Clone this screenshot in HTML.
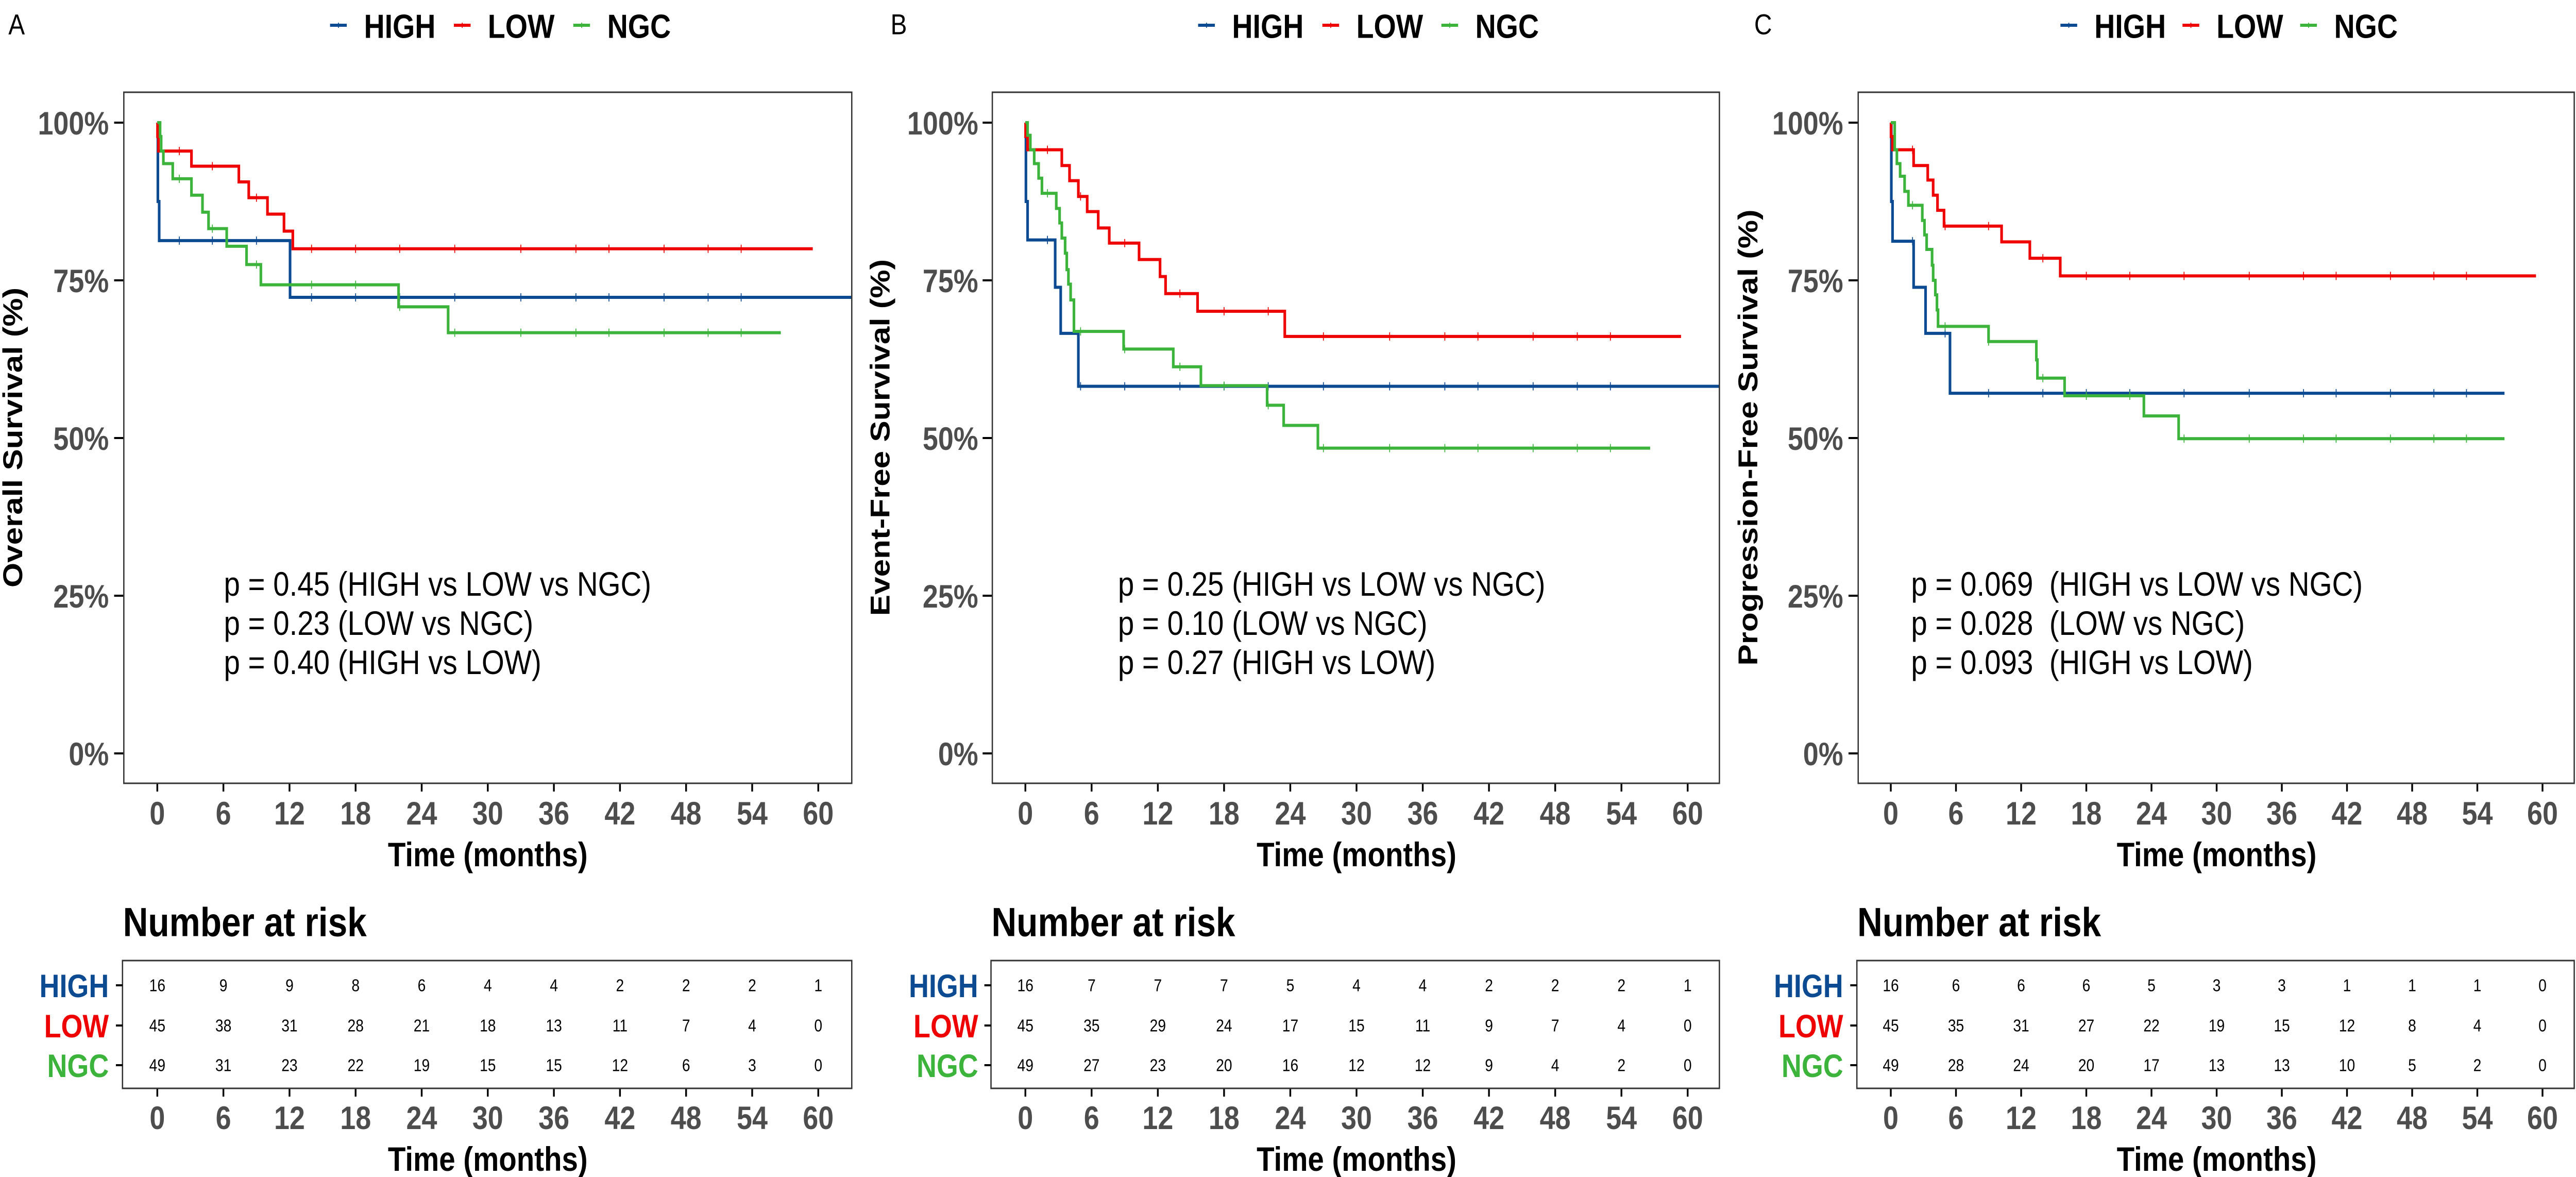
<!DOCTYPE html>
<html><head><meta charset="utf-8"><style>
html,body{margin:0;padding:0;background:#fff;width:100%;height:100%;overflow:hidden;}
svg{display:block;width:100vw;height:100vh;font-family:"Liberation Sans",Arial,sans-serif;}
</style></head><body>
<svg id="fig" viewBox="0 0 5846 2284" preserveAspectRatio="none" xmlns="http://www.w3.org/2000/svg"></svg>
<script>
// ---- data ----
const groups = ["HIGH","LOW","NGC"];
const colors = ["#0c4a92","#ee0000","#3cb43c"];
const xTicks = [0,6,12,18,24,30,36,42,48,54,60];
const yTicks = [0,0.25,0.5,0.75,1];
const yTickLabels = ["0%","25%","50%","75%","100%"];

// Panel A: Overall survival
const A_HIGH_t = [0.05,0.17,12.05];
const A_HIGH_s = [0.875,0.813,0.723];
const A_HIGH_end = 64;
const A_LOW_t = [0.02,0.1,3.1,7.4,8.3,10.0,11.5,12.3];
const A_LOW_s = [0.978,0.955,0.931,0.906,0.881,0.855,0.828,0.80];
const A_LOW_end = 59.5;
const A_NGC_t = [0.25,0.35,0.55,1.4,3.1,4.1,4.65,6.3,8.1,9.4,21.9,26.4];
const A_NGC_s = [0.978,0.955,0.935,0.911,0.885,0.858,0.832,0.804,0.775,0.743,0.708,0.667];
const A_NGC_end = 56.6;
const A_risk_HIGH = [16,9,9,8,6,4,4,2,2,2,1];
const A_risk_LOW = [45,38,31,28,21,18,13,11,7,4,0];
const A_risk_NGC = [49,31,23,22,19,15,15,12,6,3,0];

// Panel B: Event-free survival
const B_HIGH_t = [0.05,0.2,2.7,3.2,4.8];
const B_HIGH_s = [0.875,0.814,0.739,0.666,0.582];
const B_HIGH_end = 64;
const B_LOW_t = [0.02,0.2,3.3,4.0,4.8,5.6,6.6,7.6,10.3,12.2,12.7,15.6,23.5];
const B_LOW_s = [0.978,0.957,0.932,0.908,0.883,0.859,0.833,0.809,0.783,0.756,0.729,0.701,0.661];
const B_LOW_end = 59.4;
const B_NGC_t = [0.2,0.45,0.8,1.2,1.5,2.8,3.1,3.3,3.6,3.75,3.9,4.1,4.4,8.9,13.4,15.9,21.9,23.4,26.5];
const B_NGC_s = [0.98,0.957,0.935,0.912,0.888,0.864,0.841,0.817,0.793,0.767,0.744,0.719,0.669,0.641,0.613,0.583,0.552,0.520,0.484];
const B_NGC_end = 56.6;
const B_risk_HIGH = [16,7,7,7,5,4,4,2,2,2,1];
const B_risk_LOW = [45,35,29,24,17,15,11,9,7,4,0];
const B_risk_NGC = [49,27,23,20,16,12,12,9,4,2,0];

// Panel C: Progression-free survival
const C_HIGH_t = [0.05,0.16,2.1,3.2,5.45];
const C_HIGH_s = [0.875,0.812,0.739,0.666,0.571];
const C_HIGH_end = 56.5;
const C_LOW_t = [0.02,0.15,2.1,3.4,3.9,4.3,4.9,10.2,12.8,15.6];
const C_LOW_s = [0.978,0.957,0.932,0.909,0.885,0.861,0.836,0.811,0.785,0.757];
const C_LOW_end = 59.4;
const C_NGC_t = [0.36,0.56,0.86,1.27,1.62,2.9,3.1,3.3,3.8,3.9,4.1,4.25,4.35,9.0,13.4,13.5,16.0,23.3,26.5];
const C_NGC_s = [0.957,0.935,0.915,0.891,0.869,0.845,0.822,0.799,0.774,0.750,0.727,0.703,0.677,0.653,0.624,0.595,0.567,0.535,0.499];
const C_NGC_end = 56.5;
const C_risk_HIGH = [16,6,6,6,5,3,3,1,1,1,0];
const C_risk_LOW = [45,35,31,27,22,19,15,12,8,4,0];
const C_risk_NGC = [49,28,24,20,17,13,13,10,5,2,0];

const censorTimes = [2,5,9,14,18,22,27,33,38,41,46,50,53];

const pTextA = ["p = 0.45 (HIGH vs LOW vs NGC)","p = 0.23 (LOW vs NGC)","p = 0.40 (HIGH vs LOW)"];
const pTextB = ["p = 0.25 (HIGH vs LOW vs NGC)","p = 0.10 (LOW vs NGC)","p = 0.27 (HIGH vs LOW)"];
const pTextC = ["p = 0.069\u00a0 (HIGH vs LOW vs NGC)","p = 0.028\u00a0 (LOW vs NGC)","p = 0.093\u00a0 (HIGH vs LOW)"];

// ---- layout ----
const panels = [
 {id:"a",letter:"A",lx:19,boxL:281,boxR:1933,x0:357,ppm:25,tickEnd:247,ylabX:30,ylab:"Overall Survival (%)",pX:508,p:pTextA,
  legend:[749,1030,1301],
  curves:[[A_HIGH_t,A_HIGH_s,A_HIGH_end],[A_LOW_t,A_LOW_s,A_LOW_end],[A_NGC_t,A_NGC_s,A_NGC_end]],
  risk:[A_risk_HIGH,A_risk_LOW,A_risk_NGC]},
 {id:"b",letter:"B",lx:2021,boxL:2252,boxR:3902,x0:2327,ppm:25.05,tickEnd:2220,ylabX:1998,ylab:"Event-Free Survival (%)",pX:2537,p:pTextB,
  legend:[2719,3001,3271],
  curves:[[B_HIGH_t,B_HIGH_s,B_HIGH_end],[B_LOW_t,B_LOW_s,B_LOW_end],[B_NGC_t,B_NGC_s,B_NGC_end]],
  risk:[B_risk_HIGH,B_risk_LOW,B_risk_NGC]},
 {id:"c",letter:"C",lx:3981,boxL:4217,boxR:5842,x0:4291,ppm:24.65,tickEnd:4183,ylabX:3968,ylab:"Progression-Free Survival (%)",pX:4337,p:pTextC,
  legend:[4676,4953,5220],
  curves:[[C_HIGH_t,C_HIGH_s,C_HIGH_end],[C_LOW_t,C_LOW_s,C_LOW_end],[C_NGC_t,C_NGC_s,C_NGC_end]],
  risk:[C_risk_HIGH,C_risk_LOW,C_risk_NGC]}
];
const boxT=179, boxB=1520;
const yScale = v => 238 + (1 - v) * 1224;
const riskT=1864, riskB=2112, riskRows=[1912,1990,2067];

const NS="http://www.w3.org/2000/svg";
const svg=document.getElementById("fig");
function mk(tag, attrs, parent, text){
  const e=document.createElementNS(NS,tag);
  for(const k in attrs) e.setAttribute(k,attrs[k]);
  if(text!==undefined) e.textContent=text;
  (parent||svg).appendChild(e);
  return e;
}

panels.forEach(P=>{
  const xS = t => P.x0 + t*P.ppm;
  const g = mk("g",{});
  
  

  let e = mk("text",{x:P.lx,y:48,"font-size":56,fill:"#000","dominant-baseline":"central"},g,P.letter);
  
  

  groups.forEach((gn,i)=>{
    const lx=P.legend[i];
    const lg=mk("g",{},g);
    
    
    mk("line",{x1:lx,x2:lx+38,y1:49,y2:49,stroke:colors[i],"stroke-width":6},lg);
    mk("line",{x1:lx+19,x2:lx+19,y1:44,y2:54,stroke:colors[i],"stroke-width":2},lg);
    mk("text",{x:lx+77,y:51,"font-size":65,"font-weight":"bold",fill:"#000","dominant-baseline":"central"},lg,gn);
  });

  const cp=mk("clipPath",{id:"clip-"+P.id},g);
  mk("rect",{x:P.boxL,y:boxT,width:P.boxR-P.boxL,height:boxB-boxT},cp);

  yTicks.forEach((v,i)=>{
    const y=yScale(v);
    mk("line",{x1:P.boxL-22,x2:P.boxL,y1:y,y2:y,stroke:"#000","stroke-width":4},g);
    const t=mk("text",{x:P.tickEnd,y:y+2,"font-size":63,"font-weight":"bold",fill:"#4d4d4d","text-anchor":"end","dominant-baseline":"central"},g,yTickLabels[i]);
    
    
  });
  e=mk("text",{x:P.ylabX,y:849,"font-size":62,"font-weight":"bold",fill:"#000","text-anchor":"middle","dominant-baseline":"central",transform:`rotate(-90 ${P.ylabX} 849)`},g,P.ylab);
  
  

  xTicks.forEach(t=>{
    const x=xS(t);
    mk("line",{x1:x,x2:x,y1:boxB,y2:boxB+16,stroke:"#000","stroke-width":4},g);
    const tl=mk("text",{x:x,y:1579,"font-size":63,"font-weight":"bold",fill:"#4d4d4d","text-anchor":"middle","dominant-baseline":"central"},g,String(t));
    
    
    mk("line",{x1:x,x2:x,y1:riskB,y2:riskB+16,stroke:"#000","stroke-width":4},g);
    const rl=mk("text",{x:x,y:2170,"font-size":63,"font-weight":"bold",fill:"#4d4d4d","text-anchor":"middle","dominant-baseline":"central"},g,String(t));
    
    
  });
  const xm=(xS(0)+xS(60))/2;
  e=mk("text",{x:xm,y:1659,"font-size":66,"font-weight":"bold",fill:"#000","text-anchor":"middle","dominant-baseline":"central"},g,"Time (months)");
  
  
  e=mk("text",{x:xm,y:2250,"font-size":66,"font-weight":"bold",fill:"#000","text-anchor":"middle","dominant-baseline":"central"},g,"Time (months)");
  
  

  const cg=mk("g",{"clip-path":`url(#clip-${P.id})`},g);
  P.curves.forEach((c,i)=>{
    const [ts,ss,end]=c;
    let d=`M${xS(0)},${yScale(1)}`;
    ts.forEach((t,k)=>{ d+=` H${xS(t)} V${yScale(ss[k])}`; });
    d+=` H${xS(end)}`;
    const p=mk("path",{d:d,fill:"none",stroke:colors[i],"stroke-width":6,"stroke-linejoin":"miter"},cg);
    
    
    censorTimes.forEach(ct=>{
      if(ct>=end) return;
      let v=1; ts.forEach((t,k)=>{ if(t<=ct) v=ss[k]; });
      const cm=mk("line",{x1:xS(ct),x2:xS(ct),y1:yScale(v)-8,y2:yScale(v)+8,stroke:colors[i],"stroke-width":2},cg);
      
      
    });
  });

  e=mk("rect",{x:P.boxL,y:boxT,width:P.boxR-P.boxL,height:boxB-boxT,fill:"none",stroke:"#333","stroke-width":3},g);
  
  

  P.p.forEach((s,i)=>{
    const pt=mk("text",{x:P.pX,y:1134+i*76,"font-size":66,fill:"#000","dominant-baseline":"central"},g,s);
    
    
  });

  e=mk("text",{x:P.boxL-2,y:1789,"font-size":79,"font-weight":"bold",fill:"#000","dominant-baseline":"central"},g,"Number at risk");
  
  
  e=mk("rect",{x:P.boxL-3,y:riskT,width:P.boxR-P.boxL+3,height:riskB-riskT,fill:"none",stroke:"#333","stroke-width":3},g);
  
  
  P.risk.forEach((row,i)=>{
    const y=riskRows[i];
    mk("line",{x1:P.boxL-18,x2:P.boxL-3,y1:y,y2:y,stroke:"#000","stroke-width":4},g);
    const rl=mk("text",{x:P.tickEnd,y:y+2,"font-size":63,"font-weight":"bold",fill:colors[i],"text-anchor":"end","dominant-baseline":"central"},g,groups[i]);
    
    
    row.forEach((n,k)=>{
      const c=mk("text",{x:xS(xTicks[k]),y:y,"font-size":33,fill:"#000","text-anchor":"middle","dominant-baseline":"central"},g,String(n));
      
      
    });
  });
});
</script>
</body></html>
